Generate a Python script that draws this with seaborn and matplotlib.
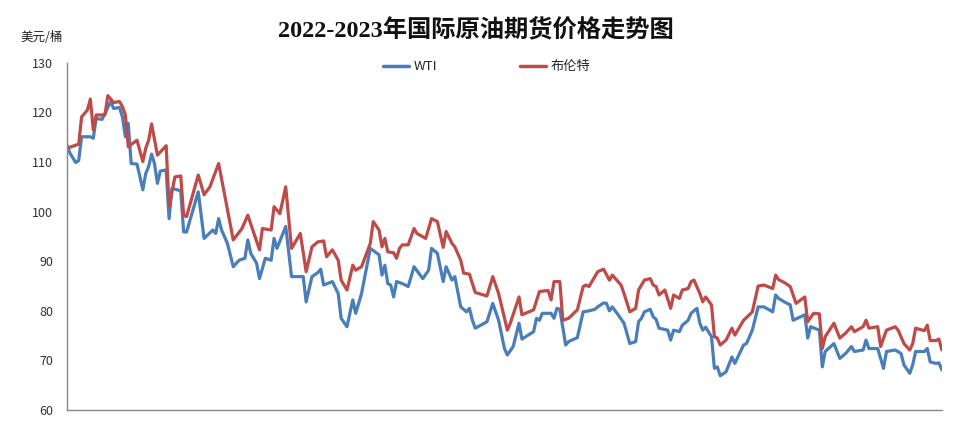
import matplotlib
matplotlib.use("Agg")
import matplotlib.pyplot as plt
import seaborn as sns
import pandas as pd

# ---- data (trading-day index, USD/barrel) ----
wti_day = [0, 1, 3, 4, 5, 8, 9, 10, 12, 13, 15, 16, 18, 19, 20, 21, 22, 24, 26, 27, 28, 29, 30, 31, 32, 34,
           35, 36, 39, 40, 41, 45, 47, 50, 51, 52, 53, 55, 57, 59, 61, 62, 63, 65, 66, 68, 70, 71, 72, 75,
           77, 81, 82, 84, 86, 87, 88, 91, 93, 94, 96, 98, 99, 101, 102, 104, 107, 108, 109, 110, 111, 112,
           113, 115, 117, 119, 122, 124, 125, 127, 129, 130, 132, 133, 135, 137, 138, 139, 140, 144, 146,
           148, 150, 151, 153, 155, 156, 160, 161, 162, 163, 166, 167, 168, 169, 171, 172, 175, 177, 179,
           181, 182, 184, 185, 186, 187, 189, 191, 193, 195, 196, 197, 198, 200, 201, 202, 203, 206, 207,
           208, 210, 211, 213, 214, 216, 217, 218, 219, 221, 222, 223, 224, 226, 228, 229, 232, 233, 235,
           237, 239, 242, 243, 244, 246, 248, 249, 253, 254, 255, 258, 259, 260, 263, 265, 267, 269, 270,
           273, 274, 275, 278, 280, 281, 284, 286, 287, 289, 290, 291, 294, 295, 296, 298, 299, 300]
wti = [113.4, 111.8, 109.9, 110.3, 115.1, 115.1, 114.8, 118.8, 118.6, 119.8, 122.2, 120.8, 121.0, 119.1,
       115.1, 117.8, 109.7, 109.6, 104.4, 107.7, 109.1, 111.6, 109.7, 105.7, 108.2, 108.4,
       98.6, 104.7, 104.2, 95.9, 95.9, 104.0, 94.6, 96.3, 95.6, 98.6, 96.3, 93.6, 88.9, 90.2, 90.6, 94.3,
       91.6, 89.6, 86.5, 90.6, 90.2, 94.6, 92.6, 97.0,
       86.9, 86.9, 81.8, 86.9, 87.7, 88.4, 85.2, 85.9, 83.5, 78.5, 76.8, 82.2, 79.5, 83.5, 86.5, 92.6,
       91.3, 87.2, 89.2, 85.5, 85.2, 82.8,
       85.9, 85.5, 84.9, 88.9, 86.5, 88.2, 92.6, 91.6, 85.9, 88.9, 86.2, 86.9, 80.8, 79.8, 80.5, 78.1,
       76.5, 77.8, 81.5,
       78.1, 72.4, 71.1, 72.8, 77.5, 74.3, 75.8, 78.5, 78.1, 79.5, 79.5, 78.5, 80.5, 80.3, 73.1, 73.8,
       74.6, 79.8, 80.0,
       80.3, 80.8, 81.6, 81.5, 80.0, 80.8, 79.2, 77.5, 73.4, 73.8, 77.8, 78.5, 79.8, 80.3, 78.8, 78.3,
       76.5, 76.1, 74.1,
       76.1, 75.8, 77.1, 78.1, 79.5, 80.5, 77.5, 76.1, 76.7, 74.8, 68.4, 68.7, 66.9, 67.7, 70.7, 69.4,
       73.1, 73.4, 76.1,
       80.8, 80.8, 79.8, 83.2, 82.5, 81.8, 81.2, 78.1, 79.2, 74.5, 76.8, 76.1, 68.7, 71.8, 73.4, 70.4,
       71.4, 72.8, 71.8,
       72.1, 74.1, 72.4, 72.4, 68.4, 71.8, 72.1, 71.4, 69.1, 67.4, 69.1, 71.8, 71.8, 72.4, 69.7, 69.4,
       69.5, 68.1]

brent_day = [0, 4, 5, 7, 8, 9, 10, 13, 14, 16, 18, 19, 20, 21, 24, 26, 27, 28, 29, 31, 34, 35, 37, 39,
             40, 41, 45, 47, 49, 52, 55, 57, 60, 62, 66, 67, 70, 71, 73, 75, 77, 80, 82, 84, 86, 88, 89,
             90, 91, 93, 94, 96, 98, 99, 101, 104, 105, 107, 108, 109, 110, 112, 113, 114, 115, 117, 119,
             120, 123, 125, 127, 129, 130, 132, 133, 135, 136, 138, 139, 140, 144, 146, 148, 151, 152,
             155, 156, 160, 162, 165, 166, 167, 169, 170, 172, 175, 177, 178, 179, 181, 182, 184, 186,
             187, 190, 191, 193, 195, 196, 198, 200, 201, 202, 203, 205, 207, 208, 210, 211, 213, 214,
             215, 217, 218, 219, 221, 222, 223, 224, 226, 228, 229, 232, 234, 235, 237, 239, 242, 243,
             244, 246, 248, 250, 253, 254, 256, 258, 259, 260, 263, 265, 267, 269, 270, 273, 274, 275,
             278, 279, 281, 284, 285, 287, 289, 290, 291, 294, 295, 296, 298, 299, 300]
brent = [112.8, 113.6, 119.1, 120.5, 122.7, 116.5, 119.5, 119.5, 123.4, 122.0, 122.2, 121.2, 119.5,
         113.1, 114.4, 110.1, 112.8, 114.4, 117.7, 111.4, 113.3, 101.0, 107.0, 107.2,
         99.3, 99.0, 107.4, 103.4, 105.0, 109.7, 100.5, 94.3, 96.6, 99.3, 92.3, 96.6, 96.3, 101.0, 99.6,
         105.0, 92.6, 95.6, 87.9, 92.9, 93.9, 94.1, 90.9,
         91.6, 92.3, 90.2, 86.2, 84.2, 89.2, 88.2, 88.9, 93.6, 98.0, 96.3, 92.9, 94.6, 91.9, 91.7, 90.6,
         92.6, 93.3, 93.3, 96.6,
         95.6, 94.6, 98.6, 98.0, 92.8, 96.0, 93.6, 92.9, 90.2, 87.6, 87.4, 85.5, 83.7, 83.0, 86.9, 83.5,
         76.1, 77.5,
         82.8, 79.2, 80.2, 83.9, 84.1, 82.2, 85.9, 85.9, 78.1, 78.5, 80.2, 84.9, 85.2, 84.9, 86.9, 87.9,
         88.4, 86.2,
         87.2, 85.2, 83.5, 79.8, 80.5, 84.2, 86.2, 86.5, 85.2, 84.9, 83.2, 84.2, 80.5, 83.2, 82.5, 84.2,
         84.5, 85.9,
         86.2, 83.5, 81.8, 82.8, 81.2, 74.8, 74.5, 73.1, 74.1, 76.5, 75.1, 78.1, 79.2, 79.8, 85.0, 85.2,
         84.5, 87.2,
         86.3, 85.7, 84.9, 81.5, 82.8, 77.8, 79.5, 79.4, 72.4, 74.8, 77.5, 74.5, 75.5, 76.8, 75.8, 76.8,
         78.1, 76.5,
         76.8, 72.8, 76.1, 76.8, 76.1, 73.4, 72.1, 73.4, 76.5, 76.0, 77.1, 74.0, 74.0, 74.3, 72.1]

series_names = ["WTI", "布伦特"]
y_ticks = [60, 70, 80, 90, 100, 110, 120, 130]
title = "2022-2023年国际原油期货价格走势图"
unit = "美元/桶"

df = pd.concat([
    pd.DataFrame({"day": wti_day, "price": wti, "series": series_names[0]}),
    pd.DataFrame({"day": brent_day, "price": brent, "series": series_names[1]}),
], ignore_index=True)

sns.set_style("white")
plt.rcParams["font.family"] = ["Noto Sans CJK SC", "DejaVu Sans"]

fig = plt.figure(figsize=(9.67, 4.22), dpi=100)
ax = fig.add_axes([0.0693, 0.0284, 0.9047, 0.8226])

palette = {series_names[0]: "#4A7EBB", series_names[1]: "#BE4B48"}
sns.lineplot(data=df, x="day", y="price", hue="series", palette=palette,
             linewidth=2.3, ax=ax, estimator=None, sort=True)

ax.set_ylim(60, 130)
ax.set_xlim(min(wti_day), max(wti_day))
ax.set_yticks(y_ticks)
ax.set_xticks([])
ax.set_xlabel("")
ax.set_ylabel("")
ax.tick_params(axis="y", length=0, pad=10, labelsize=9, labelcolor="#333333")
for s in ["top", "right"]:
    ax.spines[s].set_visible(False)
for s in ["left", "bottom"]:
    ax.spines[s].set_color("#888888")
    ax.spines[s].set_linewidth(1.0)

fig.text(0.4925, 0.93, title, ha="center", va="center", fontsize=17.5, fontweight="bold",
         color="#111111", family=["Liberation Serif", "Noto Sans CJK SC"])
fig.text(0.021, 0.912, unit, ha="left", va="center", fontsize=9, color="#222222")

leg = ax.legend(loc="center", bbox_to_anchor=(0.503, 0.842), bbox_transform=fig.transFigure,
                ncol=2, frameon=False, fontsize=9.5, handlelength=2.0, handletextpad=0.3,
                columnspacing=6.3)
for line in leg.get_lines():
    line.set_linewidth(2.5)

fig.savefig("out.png", dpi=100)
